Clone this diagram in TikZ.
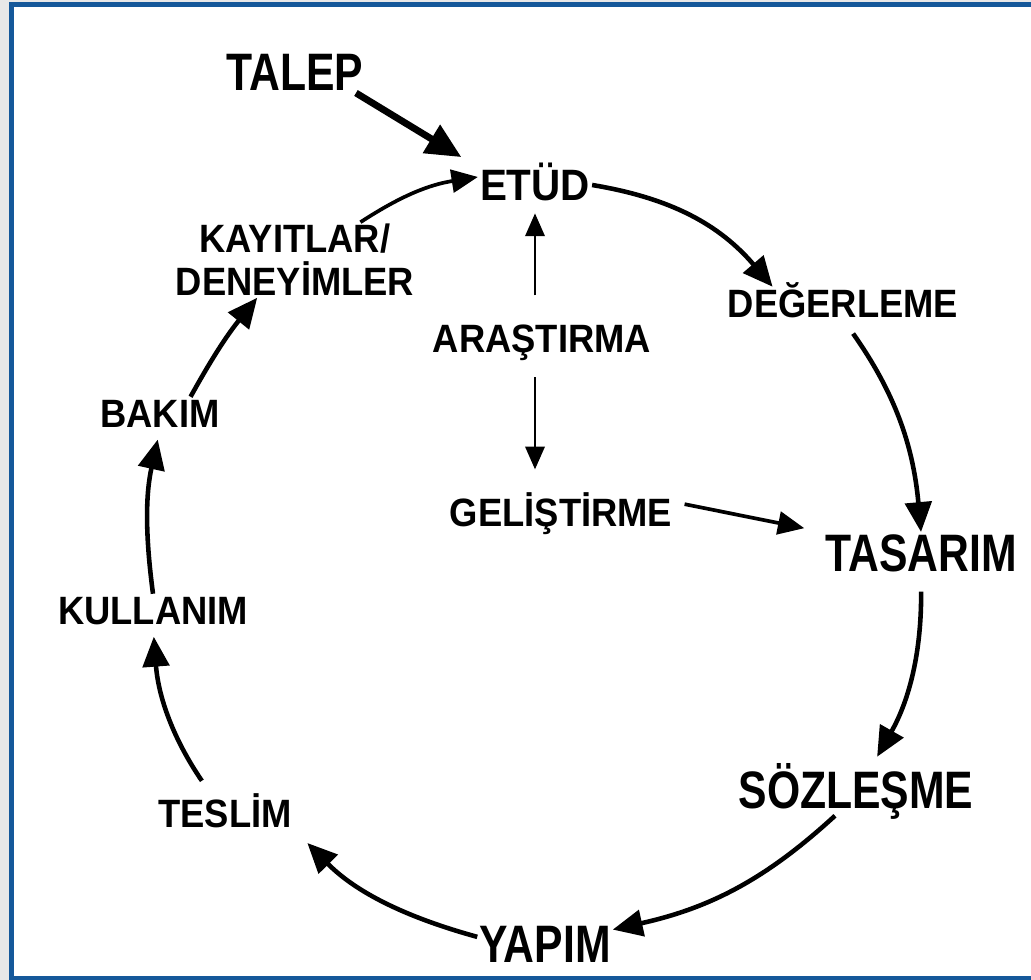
\documentclass[tikz,border=0pt]{standalone}
\usepackage{fontspec}
\setmainfont{Liberation Sans}
\newfontfamily\midfont{Liberation Sans}[FakeStretch=0.92]
\newfontfamily\bigfont{Liberation Sans}[FakeStretch=0.81]
\usetikzlibrary{arrows.meta}
\definecolor{frameblue}{HTML}{15589A}

\begin{document}
\begin{tikzpicture}[x=0.02cm,y=0.02cm,
    big/.style={inner sep=1pt,font=\bigfont\bfseries\fontsize{30}{34}\selectfont,text height=21.5pt,text depth=0pt},
    mid/.style={inner sep=1pt,font=\midfont\bfseries\fontsize{22.5}{24.5}\selectfont,text height=16.1pt,text depth=0pt},
    flow/.style={-{Triangle[length=17pt,width=15pt]},line width=2.6pt},
    feed/.style={-{Triangle[length=20pt,width=18pt]},line width=3.9pt},
    link/.style={-{Triangle[length=15pt,width=13pt]},line width=2.1pt},
    thin/.style={-{Triangle[length=13pt,width=11pt]},line width=1.5pt}]
    \useasboundingbox (0,0) rectangle (1031,980);
    \clip (0,0) rectangle (1031,980);
    \fill[gray!18] (0,0) rectangle (1031,980);
    \draw[frameblue,line width=2.8pt,fill=white] (11.5,1.5) rectangle (1060,975.5);

    \node[big] (talep) at (295,908) {TALEP};
    \node[mid,font=\midfont\bfseries\fontsize{25}{28}\selectfont,text height=17.9pt] (etud) at (535,795) {ETÜD};
    \node[mid] (degerleme) at (843,677) {DEĞERLEME};
    \node[big] (tasarim) at (921,427) {TASARIM};
    \node[big] (sozlesme) at (856,190) {SÖZLEŞME};
    \node[big] (yapim) at (545,36) {YAPIM};
    \node[mid] (teslim) at (225,167) {TESLİM};
    \node[mid] (kullanim) at (153,370) {KULLANIM};
    \node[mid] (bakim) at (160,567) {BAKIM};
    \node[mid,text height=40.6pt,align=center] (kayitlar) at (295,720) {KAYITLAR/\\DENEYİMLER};
    \node[mid] (arastirma) at (542,642) {ARAŞTIRMA};
    \node[mid] (gelistirme) at (561,468) {GELİŞTİRME};

    \draw[feed,shorten >=11pt] (talep.-19) -- (etud.north west);
    \draw[link] (kayitlar.30) to[bend left=12] (etud.172);
    \draw[flow] (etud.east) to[bend left=20] (degerleme.167);
    \draw[flow,shorten <=10pt] (degerleme.south) to[bend left=15] (tasarim.north);
    \draw[flow,shorten <=10pt,shorten >=8pt] (tasarim.south) to[bend left=15] (sozlesme.56);
    \draw[flow,shorten <=4pt] (sozlesme.-127) to[bend left=15] (yapim.12);
    \draw[flow,shorten >=11pt] (yapim.174) to[bend left=15] (teslim.south east);
    \draw[flow,shorten <=11pt,shorten >=6pt] (teslim.127) to[bend left=15] (kullanim.south);
    \draw[flow,shorten >=6pt] (kullanim.north) to[bend left=10] (bakim.south);
    \draw[flow] (bakim.28) to[bend left=5] (kayitlar.-135);

    \draw[thin,shorten <=15pt,shorten >=6pt] (arastirma.north -| etud) -- (etud.south);
    \draw[thin,shorten <=13pt,shorten >=15pt] (arastirma.south -| etud) -- (gelistirme.north -| etud);
    \draw[link,shorten <=6pt,shorten >=11pt] (gelistirme.5) -- (tasarim.north west);
\end{tikzpicture}
\end{document}
